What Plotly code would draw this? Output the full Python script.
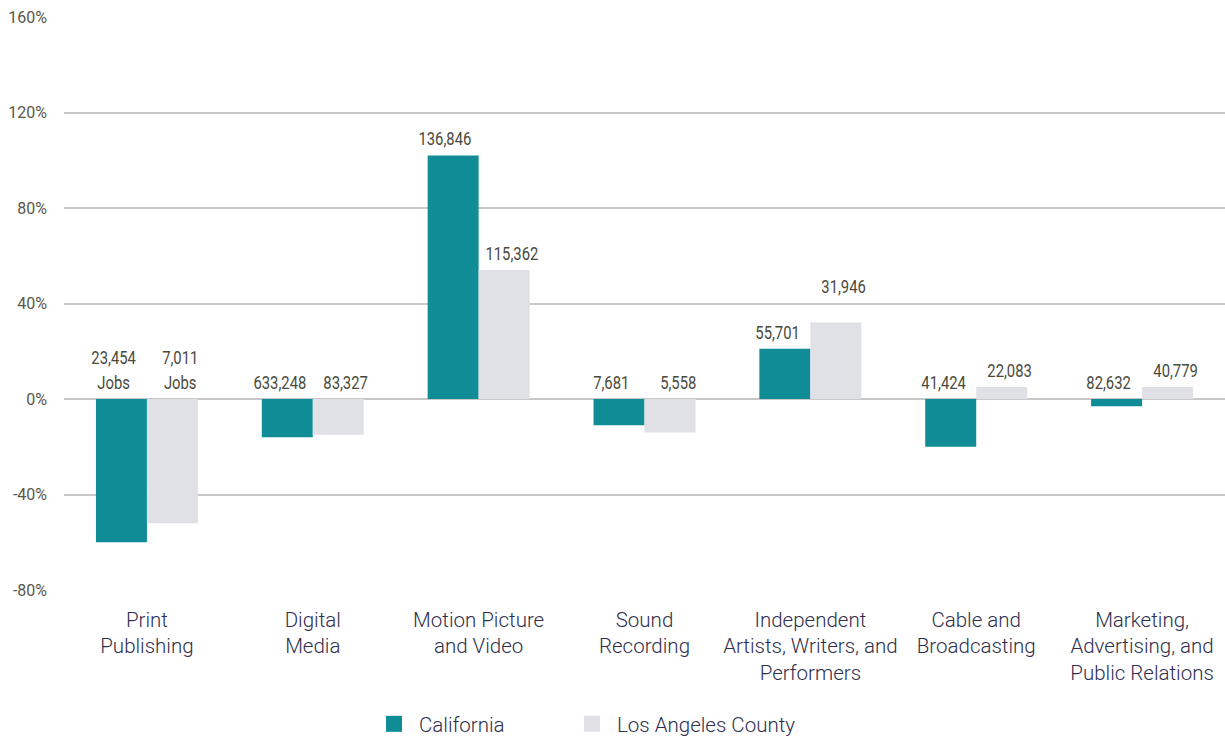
import plotly.graph_objects as go

categories = [
    "Print<br>Publishing",
    "Digital<br>Media",
    "Motion Picture<br>and Video",
    "Sound<br>Recording",
    "Independent<br>Artists, Writers, and<br>Performers",
    "Cable and<br>Broadcasting",
    "Marketing,<br>Advertising, and<br>Public Relations",
]
california_pct = [-60, -16, 102, -11, 21, -20, -3]
la_county_pct = [-52, -15, 54, -14, 32, 5, 5]
california_jobs = ["23,454<br>Jobs", "633,248", "136,846", "7,681", "55,701", "41,424", "82,632"]
la_county_jobs = ["7,011<br>Jobs", "83,327", "115,362", "5,558", "31,946", "22,083", "40,779"]
y_ticks = [-80, -40, 0, 40, 80, 120, 160]
y_tick_text = ["-80%", "-40%", "0%", "40%", "80%", "120%", "160%"]

TEAL = "#0f8c96"
LIGHT = "#e0e1e6"
VALUE_FONT = dict(family="Roboto", size=19, color="#4a4a3c")
CAT_FONT = dict(family="Roboto", size=20.5, color="#2e2e4d", weight=300)

fig = go.Figure()
fig.add_trace(go.Bar(name="California", x=categories, y=california_pct,
                     marker=dict(color=TEAL, line=dict(width=0)), showlegend=False))
fig.add_trace(go.Bar(name="Los Angeles County", x=categories, y=la_county_pct,
                     marker=dict(color=LIGHT, line=dict(width=0)), showlegend=False))

# legend entries with larger square swatches, one legend box per series
for name, color, leg in (("California", TEAL, "legend"), ("Los Angeles County", LIGHT, "legend2")):
    fig.add_trace(go.Scatter(x=[None], y=[None], mode="markers", name=name, legend=leg,
                             marker=dict(symbol="square", size=20, color=color, line=dict(width=0))))

# job-count labels sit above the bar top (or above the zero line for declines)
extra_lift = {("la", 4): 20}
annotations = []
for i, cat in enumerate(categories):
    for key, vals, labels, off in (("ca", california_pct, california_jobs, -0.2),
                                   ("la", la_county_pct, la_county_jobs, 0.2)):
        v = vals[i]
        annotations.append(dict(
            x=i + off, xref="x", y=max(v, 0), yref="y",
            text=labels[i], showarrow=False, yanchor="bottom",
            yshift=3 + extra_lift.get((key, i), 0),
            font=VALUE_FONT, align="center",
        ))

legend_common = dict(orientation="h", xref="paper", xanchor="left",
                     yref="container", y=1 - 724 / 740, yanchor="middle",
                     font=CAT_FONT, itemwidth=40,
                     itemsizing="trace", bgcolor="rgba(0,0,0,0)")

fig.update_layout(
    width=1225, height=740,
    margin=dict(l=64, r=0, t=17, b=150),
    paper_bgcolor="white", plot_bgcolor="white",
    barmode="group", bargap=0.385, bargroupgap=0,
    annotations=annotations,
    showlegend=True,
    legend=dict(x=(369 - 64) / 1161, **legend_common),
    legend2=dict(x=(567 - 64) / 1161, **legend_common),
    xaxis=dict(
        type="category", showgrid=False, showline=False, ticks="",
        tickfont=CAT_FONT, ticklabelstandoff=15,
    ),
    yaxis=dict(
        range=[-80, 160], tickvals=y_ticks, ticktext=y_tick_text,
        showgrid=True, gridcolor="#c8c8c8", gridwidth=1.5,
        zeroline=True, zerolinecolor="#c8c8c8", zerolinewidth=1.5,
        showline=False, ticks="",
        tickfont=dict(family="Roboto", size=16, color="#58584a"),
        ticklabelstandoff=16,
    ),
)

# narrow the job-count labels horizontally for a condensed look
condense_labels = """
var s = document.createElement('style');
s.textContent = '.annotation-text{transform-box:fill-box;transform-origin:center;transform:scaleX(0.78);}';
document.head.appendChild(s);
"""

fig.write_html("out.html", post_script=condense_labels)
